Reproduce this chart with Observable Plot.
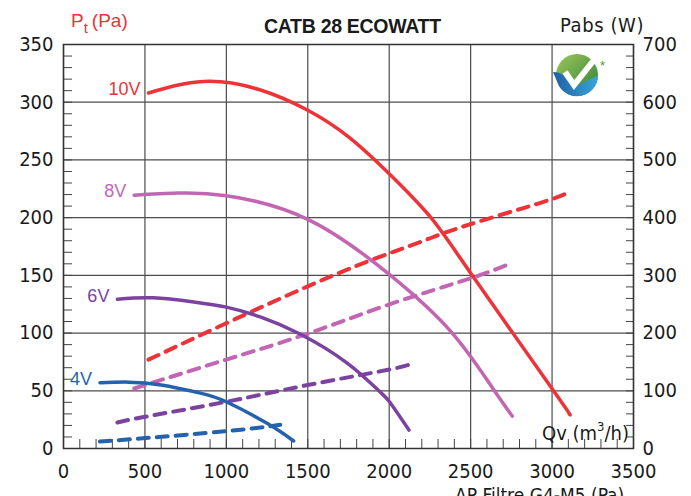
<!DOCTYPE html>
<html>
<head>
<meta charset="utf-8">
<script src="https://cdn.jsdelivr.net/npm/d3@7"></script>
<script src="https://cdn.jsdelivr.net/npm/@observablehq/plot@0.6"></script>
<style>
  html, body { margin: 0; padding: 0; background: #fff; overflow: hidden; }
  #wrap { position: relative; width: 691px; height: 496px; overflow: hidden; }
  #wrap > svg { position: absolute; left: 0; top: 0; }
  #overlay { position: absolute; left: 0; top: 0; pointer-events: none; }
</style>
</head>
<body>
<div id="wrap"></div>
<script>
// ---------- data ----------
const flowTicks = [0, 500, 1000, 1500, 2000, 2500, 3000, 3500];      // Qv (m3/h)
const pressureTicks = [0, 50, 100, 150, 200, 250, 300, 350];          // Pt (Pa)
const powerTicks = [0, 100, 200, 300, 400, 500, 600, 700];            // Pabs (W)
const speeds = ["10V", "8V", "6V", "4V"];
const speedColors = ["#ee3338", "#c266b4", "#7b42a0", "#2462ae"];

// pressure curves (Pa)
const q10 = [522, 860, 1200, 1500, 1750, 2000, 2250, 2505, 3009, 3105];
const pt10 = [308, 318, 311, 293, 270, 238, 201, 151, 50, 30];
const q8 = [434, 700, 1000, 1500, 2008, 2387, 2643, 2756];
const pt8 = [219.5, 221.3, 219, 198.5, 150, 100, 50.6, 28];
const q6 = [331, 550, 800, 1000, 1208, 1455, 1742, 1936, 2004, 2121];
const pt6 = [129.3, 130.5, 127, 122.5, 114, 99, 74, 50, 40, 16];
const q4 = [224, 400, 600, 840, 999, 1250, 1413];
const pt4 = [57, 57.5, 55, 48, 40.5, 21.8, 6.5];

// absorbed power curves (W)
const qw10 = [522, 999, 1500, 1885, 2192, 2480, 2910, 3090];
const pw10 = [154, 217, 281, 326, 358, 387, 424, 442];
const qw8 = [434, 999, 1500, 2004, 2500, 2756];
const pw8 = [104, 154, 199, 250, 295, 322];
const qw6 = [331, 501, 999, 1500, 2004, 2121];
const pw6 = [45, 55, 81, 110, 137, 146];
const qw4 = [224, 501, 999, 1331];
const pw4 = [12, 18, 30, 41];

// ---------- tables ----------
const pressureSets = [[q10, pt10], [q8, pt8], [q6, pt6], [q4, pt4]];
const powerSets = [[qw10, pw10], [qw8, pw8], [qw6, pw6], [qw4, pw4]];
const pressureRows = pressureSets.flatMap(([q, p], i) => q.map((v, j) => ({q: v, y: p[j], s: speeds[i]})));
const powerRows = powerSets.flatMap(([q, w], i) => q.map((v, j) => ({q: v, y: w[j] / 2, s: speeds[i]}))); // W -> Pa scale (700 W = 350 Pa)
const labelRows = pressureSets.map(([q, p], i) => ({q: q[0], y: p[0], s: speeds[i]}));

const narrow = "'Liberation Sans Narrow', 'DejaVu Sans Condensed', sans-serif";
const gridStyle = {stroke: "#4d4d4d", strokeOpacity: 1, strokeWidth: 1.2};
const plain = d => String(d);

const chart = Plot.plot({
  width: 691,
  height: 496,
  marginLeft: 63,
  marginRight: 58,
  marginTop: 44,
  marginBottom: 48,
  style: {fontFamily: narrow, fontSize: "20px", color: "#1a1a1a", background: "transparent", overflow: "visible"},
  x: {domain: [0, 3500]},
  y: {domain: [0, 350]},
  color: {domain: speeds, range: speedColors},
  marks: [
    Plot.gridX(flowTicks, gridStyle),
    Plot.gridY(pressureTicks, gridStyle),
    // minor ticks (inward)
    Plot.axisY(d3.range(0, 351, 10), {anchor: "left", tickSize: -9, tickFormat: () => "", label: null, stroke: "#444"}),
    Plot.axisY(d3.range(0, 351, 10), {anchor: "right", tickSize: -8, tickFormat: () => "", label: null, stroke: "#444"}),
    Plot.axisX(d3.range(0, 3501, 100), {anchor: "bottom", tickSize: -9, tickFormat: () => "", label: null, stroke: "#444"}),
    // labelled axes
    Plot.axisY(pressureTicks, {anchor: "left", tickSize: 0, tickPadding: 10, tickFormat: plain, label: null, letterSpacing: 1.2}),
    Plot.axisY(powerTicks.map(w => w / 2), {anchor: "right", tickSize: 0, tickPadding: 9, tickFormat: d => String(d * 2), label: null, letterSpacing: 1.2}),
    Plot.axisX(flowTicks, {anchor: "bottom", tickSize: 0, tickPadding: 15, tickFormat: plain, label: null, letterSpacing: 1.2}),
    Plot.frame({stroke: "#333", strokeWidth: 1.5}),
    // power (dashed)
    Plot.line(powerRows, {x: "q", y: "y", z: "s", stroke: "s", strokeWidth: 4, strokeDasharray: "11,8", curve: "natural"}),
    // pressure (solid)
    Plot.line(pressureRows, {x: "q", y: "y", z: "s", stroke: "s", strokeWidth: 3.5, curve: "natural"}),
    Plot.text(labelRows, {x: "q", y: "y", text: "s", fill: "s", textAnchor: "end", dx: -8, dy: -3.5,
      fontFamily: "'Liberation Sans', Arial, sans-serif", fontSize: 18})
  ]
});
document.getElementById("wrap").appendChild(chart);

// ---------- titles / labels overlay ----------
const ns = "http://www.w3.org/2000/svg";
const overlay = document.createElementNS(ns, "svg");
overlay.setAttribute("id", "overlay");
overlay.setAttribute("width", 691);
overlay.setAttribute("height", 496);
overlay.innerHTML = `
  <defs>
    <linearGradient id="lgG" x1="0" y1="0" x2="1" y2="1">
      <stop offset="0" stop-color="#9cc85a"/><stop offset="1" stop-color="#2f7f34"/>
    </linearGradient>
    <linearGradient id="lgB" x1="0" y1="0" x2="1" y2="0">
      <stop offset="0" stop-color="#1f5fa6"/><stop offset="1" stop-color="#3aa6d6"/>
    </linearGradient>
  </defs>
  <text x="264" y="32.5" font-family="'Liberation Sans', Arial, sans-serif" font-weight="bold" font-size="19.5" letter-spacing="-0.3" fill="#1a1a1a">CATB 28 ECOWATT</text>
  <text x="71" y="27" font-family="'Liberation Sans', Arial, sans-serif" font-size="19" fill="#ee3338">P<tspan font-size="15" dy="6">t</tspan><tspan dy="-6" dx="4">(Pa)</tspan></text>
  <text x="560" y="31.5" font-family="${narrow}" font-size="20" letter-spacing="0.6" fill="#1a1a1a">Pabs (W)</text>
  <text x="542" y="440" font-family="${narrow}" font-size="20" letter-spacing="0" fill="#1a1a1a">Qv (m<tspan font-size="13" dy="-9">3</tspan><tspan dy="9">/h)</tspan></text>
  <text x="455" y="502" font-family="${narrow}" font-size="19" letter-spacing="0" fill="#1a1a1a">ΔP Filtre G4-M5 (Pa)</text>
  <g transform="translate(577,75)">
    <circle r="21" fill="url(#lgG)"/>
    <path d="M-24,-3 C-14,-3 -6,5 -1,12 C7,7 14,3 21,1 A21,21 0 0 1 -18,11 Z" fill="url(#lgB)"/>
    <path d="M-12,-3 L-3,10 L17,-15" fill="none" stroke="#fff" stroke-width="6" stroke-linejoin="miter"/>
  </g>
  <text x="600" y="70" font-family="'Liberation Sans', Arial, sans-serif" font-size="13" fill="#4a9a3c">*</text>
`;
document.getElementById("wrap").appendChild(overlay);
</script>
</body>
</html>
